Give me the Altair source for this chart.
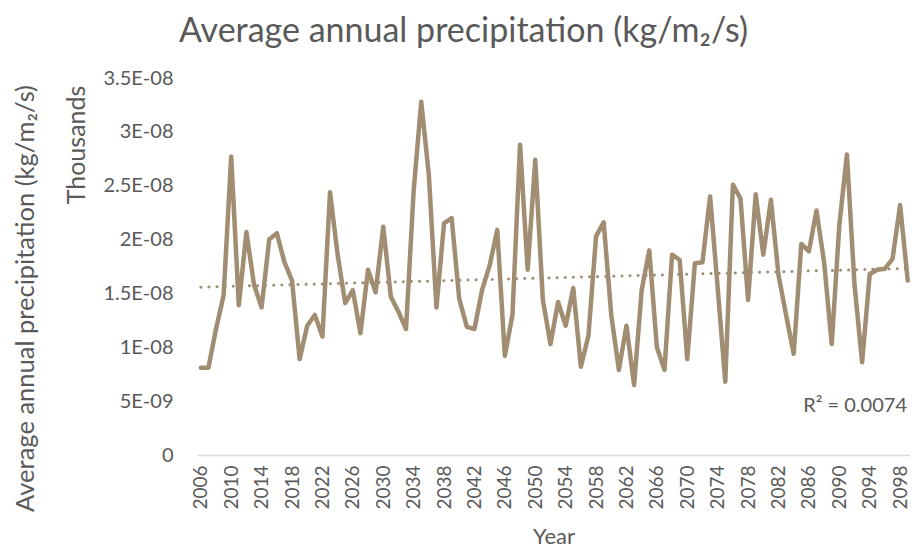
import altair as alt
import pandas as pd

# ---- data ----
years = list(range(2006, 2100))
precip_e8 = [
    0.81, 0.81, 1.17, 1.48, 2.77, 1.39, 2.07, 1.58, 1.37, 2.00,
    2.06, 1.79, 1.62, 0.89, 1.20, 1.30, 1.10, 2.44, 1.86, 1.41,
    1.53, 1.13, 1.72, 1.51, 2.12, 1.47, 1.33, 1.17, 2.45, 3.28,
    2.60, 1.37, 2.15, 2.20, 1.45, 1.19, 1.17, 1.53, 1.76, 2.09,
    0.92, 1.30, 2.88, 1.72, 2.74, 1.44, 1.03, 1.42, 1.20, 1.55,
    0.82, 1.11, 2.03, 2.16, 1.30, 0.79, 1.20, 0.65, 1.53, 1.90,
    1.00, 0.79, 1.86, 1.81, 0.89, 1.78, 1.79, 2.40, 1.55, 0.68,
    2.51, 2.38, 1.44, 2.42, 1.86, 2.37, 1.67, 1.30, 0.94, 1.96,
    1.89, 2.27, 1.79, 1.03, 2.13, 2.79, 1.58, 0.86, 1.68, 1.72,
    1.73, 1.82, 2.32, 1.62,
]
precip = [v * 1e-8 for v in precip_e8]

x_tick_years = list(range(2006, 2099, 4))
y_tick_values = [0, 5e-9, 1e-8, 1.5e-8, 2e-8, 2.5e-8, 3e-8, 3.5e-8]
y_tick_labels = ["0", "5E-09", "1E-08", "1.5E-08", "2E-08", "2.5E-08", "3E-08", "3.5E-08"]

title_text = "Average annual precipitation (kg/m\u2082/s)"
r2_text = "R\u00b2 = 0.0074"

df = pd.DataFrame({"Year": years, "Precip": precip})

FONT = "Lato"
GREY = "#595959"
LINE = "#A08D72"

label_js = "[" + ",".join("'%s'" % s for s in y_tick_labels) + "]"

x_enc = alt.X(
    "Year:Q",
    scale=alt.Scale(domain=[2005.5, 2099.3], nice=False, zero=False),
    axis=alt.Axis(
        values=x_tick_years, format="d", labelAngle=-90, labelFontSize=19,
        labelFont=FONT, labelColor=GREY, labelPadding=10, ticks=False, grid=False,
        domainColor="#D9D9D9", domainWidth=1.5, title="Year", titleFont=FONT,
        titleFontSize=22, titleFontWeight="normal", titleColor=GREY,
        titleY=88, titleBaseline="alphabetic", labelOverlap=False,
        labelSeparation=0,
    ),
)
y_enc = alt.Y(
    "Precip:Q",
    scale=alt.Scale(domain=[0, 3.5e-8], nice=False),
    axis=alt.Axis(
        values=y_tick_values,
        labelExpr=label_js + "[round(datum.value / 5e-9)]",
        labelFontSize=20, labelFont=FONT, labelColor=GREY, labelPadding=24,
        ticks=False, grid=False, domain=False,
        title=title_text, titleFont=FONT, titleFontSize=25.5,
        titleFontWeight="normal", titleColor=GREY, titleAngle=270,
        titleX=-164, titleY=220, titleBaseline="alphabetic", titleAlign="center",
    ),
)

base = alt.Chart(df).encode(x=x_enc, y=y_enc)

line = base.mark_line(color=LINE, strokeWidth=4.5, strokeJoin="round", strokeCap="round")

trend = base.transform_regression(
    "Year", "Precip", extent=[2006, 2099]
).mark_line(
    color=LINE, strokeWidth=3, strokeDash=[0.1, 8], strokeCap="round"
)

r2 = alt.Chart(pd.DataFrame({"t": [r2_text]})).mark_text(
    font=FONT, fontSize=20, color=GREY, align="right", baseline="alphabetic"
).encode(text="t:N", x=alt.value(710), y=alt.value(334))

thousands = alt.Chart(pd.DataFrame({"t": ["Thousands"]})).mark_text(
    font=FONT, fontSize=25, color=GREY, align="center", baseline="middle", angle=270
).encode(text="t:N", x=alt.value(-120), y=alt.value(67))

chart = alt.layer(line, trend, r2, thousands).properties(
    width=713,
    height=377,
    title=alt.TitleParams(
        text=title_text, font=FONT, fontSize=34, fontWeight="normal",
        color=GREY, anchor="middle", frame="group", dx=-90, offset=-8,
        baseline="alphabetic",
    ),
    autosize=alt.AutoSizeParams(type="none"),
    padding={"left": 189, "top": 70, "right": 0, "bottom": 94},
).configure_view(stroke=None).configure_axis(labelOverlap=False)

chart.save("out.html", embed_options={"renderer": "svg", "actions": False})
